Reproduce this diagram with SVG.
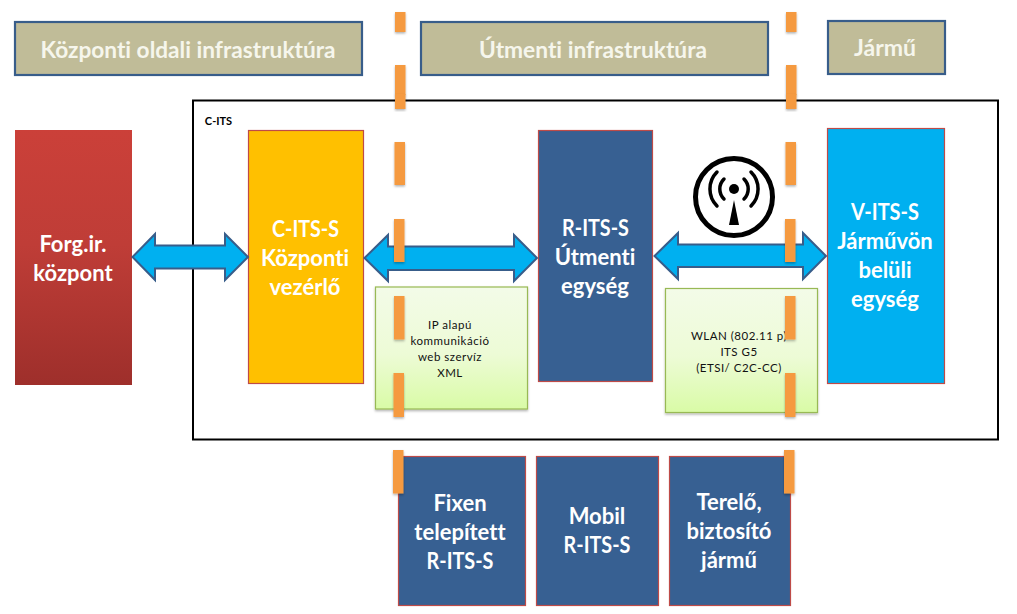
<svg xmlns="http://www.w3.org/2000/svg" width="1017" height="614" viewBox="0 0 1017 614">
<style>
text{font-family:Lato,"Open Sans","Liberation Sans",sans-serif;text-anchor:middle;font-variant-ligatures:none}
.h{fill:#C0BC98;stroke:#385D8A;stroke-width:2.2}
.ht{font-size:22.500px;font-weight:700;fill:#F6F6EC}
.n{stroke:#BE4B48;stroke-width:1.2}
.t{font-size:22px;font-weight:700;fill:#fff}
.g{fill:url(#gg);stroke:#98B954;stroke-width:1.2;filter:url(#sh)}
.s{font-size:11.500px;fill:#111;letter-spacing:.5px}
.d{fill:#F59A3F;filter:url(#sh)}
.a{fill:#00B0F0;stroke:#385D8A;stroke-width:2}
</style>
<defs>
<linearGradient id="rg" x1="0" y1="0" x2="0" y2="1"><stop offset="0" stop-color="#CB4039"/><stop offset=".45" stop-color="#BF3D37"/><stop offset="1" stop-color="#9E2F2B"/></linearGradient>
<linearGradient id="gg" x1="0" y1="0" x2="0" y2="1"><stop offset="0" stop-color="#F3FBE8"/><stop offset=".55" stop-color="#EDFBD6"/><stop offset="1" stop-color="#D9FBA6"/></linearGradient>
<filter id="sh" x="-30%" y="-20%" width="160%" height="140%"><feDropShadow dx="0" dy="1.5" stdDeviation="1.2" flood-color="#000" flood-opacity=".3"/></filter>
</defs>
<rect id="c-its-frame" x="193" y="100.500" width="805" height="339" fill="#fff" stroke="#000" stroke-width="2"/>
<text x="218.500" y="125" style="font-size:11px;font-weight:700;fill:#000">C-ITS</text>
<g id="hdr-kozponti"><rect class="h" x="15" y="22" width="347" height="53"/><text class="ht" x="188" y="57.500" textLength="295" lengthAdjust="spacingAndGlyphs">Központi oldali infrastruktúra</text></g>
<g id="hdr-utmenti"><rect class="h" x="421" y="22" width="347" height="53"/><text class="ht" x="593" y="57.500" textLength="228" lengthAdjust="spacingAndGlyphs">Útmenti infrastruktúra</text></g>
<g id="hdr-jarmu"><rect class="h" x="828" y="21" width="117" height="53"/><text class="ht" x="885" y="56" textLength="62" lengthAdjust="spacingAndGlyphs">Jármű</text></g>
<g id="forgir"><rect x="15" y="130" width="117" height="255" fill="url(#rg)"/><text class="t" x="73" y="252">Forg.ir.</text><text class="t" x="73" y="281">központ</text></g>
<g id="c-its-s"><rect class="n" x="248.500" y="130.500" width="115" height="253" fill="#FFC000"/><text class="t" x="305.500" y="237" textLength="67" lengthAdjust="spacingAndGlyphs">C-ITS-S</text><text class="t" x="305" y="266">Központi</text><text class="t" x="305" y="295">vezérlő</text></g>
<g id="r-its-s"><rect class="n" x="538.500" y="130.500" width="114" height="251" fill="#376092"/><text class="t" x="595.500" y="236" textLength="67" lengthAdjust="spacingAndGlyphs">R-ITS-S</text><text class="t" x="595" y="265">Útmenti</text><text class="t" x="595" y="294">egység</text></g>
<g id="v-its-s"><rect class="n" x="827.500" y="128.500" width="117" height="255" fill="#00B0F0"/><text class="t" x="885" y="220" textLength="68" lengthAdjust="spacingAndGlyphs">V-ITS-S</text><text class="t" x="885" y="249">Járművön</text><text class="t" x="885" y="278">belüli</text><text class="t" x="885" y="307">egység</text></g>
<g id="ip-box"><rect class="g" x="375.500" y="287" width="152" height="122"/><text class="s" x="450" y="329">IP alapú</text><text class="s" x="450" y="344.500">kommunikáció</text><text class="s" x="450" y="361">web szervíz</text><text class="s" x="450" y="376.500">XML</text></g>
<g id="wlan-box"><rect class="g" x="665.500" y="288.500" width="152" height="124"/><text class="s" x="739" y="339.500">WLAN (802.11 p)</text><text class="s" x="739" y="355.500">ITS G5</text><text class="s" x="739" y="371.500">(ETSI/ C2C-CC)</text></g>
<g id="fixen"><rect class="n" x="398.500" y="456.500" width="127" height="149" fill="#376092"/><text class="t" x="460" y="510.500">Fixen</text><text class="t" x="460" y="539.500">telepített</text><text class="t" x="460" y="568.500" textLength="67" lengthAdjust="spacingAndGlyphs">R-ITS-S</text></g>
<g id="mobil"><rect class="n" x="536.500" y="456.500" width="122" height="149" fill="#376092"/><text class="t" x="597" y="524">Mobil</text><text class="t" x="597" y="553" textLength="67" lengthAdjust="spacingAndGlyphs">R-ITS-S</text></g>
<g id="terelo"><rect class="n" x="669.500" y="456.500" width="121" height="149" fill="#376092"/><text class="t" x="729" y="510">Terelő,</text><text class="t" x="729" y="539">biztosító</text><text class="t" x="729" y="568">jármű</text></g>
<g id="connectors">
<path class="a" d="M132.500 257L155 234V245.500H225V234L248 257L225 280V268.500H155V280Z"/>
<path class="a" d="M364.500 258L388 235V246.500H514V235L537 258L514 281V270H388V281Z"/>
<path class="a" d="M654.500 256L678 233V244.500H803V233L826 256L803 279V267H678V279Z"/>
</g>
<g id="antenna" fill="none" stroke="#000" stroke-linecap="round">
<circle cx="734" cy="197" r="38.500" stroke-width="5"/>
<path d="M724 179a14 14 0 0 0 0 20M744 179a14 14 0 0 1 0 20" stroke-width="3.500"/>
<path d="M717 172a24 24 0 0 0 0 34M751 172a24 24 0 0 1 0 34" stroke-width="3.500"/>
<circle cx="734" cy="189" r="5" fill="#000" stroke="none"/>
<path d="M734 200L739 225H729Z" fill="#000" stroke="none"/>
</g>
<g id="dash-left">
<rect class="d" x="395" y="12" width="10.500" height="20"/><rect class="d" x="395" y="65" width="10.500" height="30"/><rect class="d" x="395" y="94" width="10.500" height="15"/><rect class="d" x="394.500" y="142" width="10.500" height="43"/><rect class="d" x="394" y="219" width="10.500" height="43"/><rect class="d" x="394" y="296" width="10.500" height="43.500"/><rect class="d" x="393.500" y="373" width="10.500" height="44"/><rect class="d" x="393" y="450" width="10.500" height="43.500"/>
</g>
<g id="dash-right">
<rect class="d" x="786" y="12" width="10.500" height="20"/><rect class="d" x="786" y="65" width="10.500" height="30"/><rect class="d" x="786" y="94" width="10.500" height="15"/><rect class="d" x="785.500" y="142" width="10.500" height="43"/><rect class="d" x="785" y="219" width="10.500" height="43"/><rect class="d" x="785" y="296" width="10.500" height="43.500"/><rect class="d" x="785" y="373" width="10.500" height="44"/><rect class="d" x="784" y="450" width="10.500" height="43.500"/>
</g>
</svg>
